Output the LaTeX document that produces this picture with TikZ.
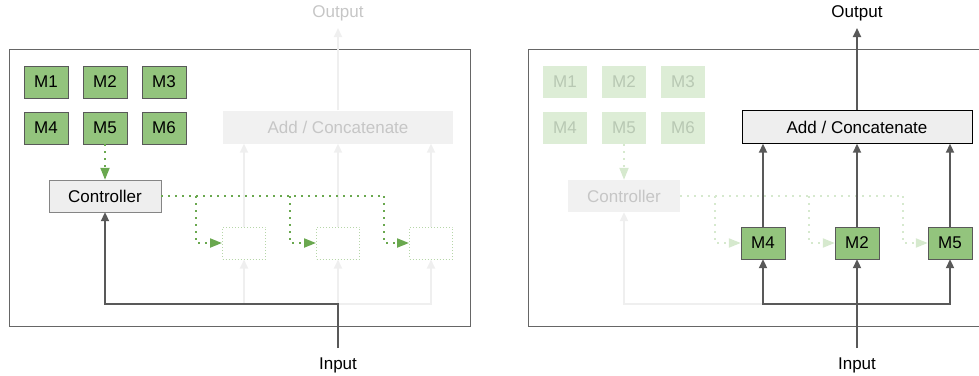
\documentclass[tikz,border=0pt]{standalone}
\usepackage{fontspec}
\setmainfont{Liberation Sans}
\usetikzlibrary{arrows.meta}
\definecolor{modgreen}{HTML}{93C47D}
\definecolor{modfaint}{HTML}{DDEDD6}
\definecolor{modfainttext}{HTML}{B8C8B3}
\definecolor{dotgreen}{HTML}{6AA84F}
\definecolor{dotfaint}{HTML}{D6E9CE}
\definecolor{boxgray}{HTML}{EEEEEE}
\definecolor{boxfaint}{HTML}{F1F1F1}
\definecolor{fadetext}{HTML}{C6C6C6}
\definecolor{linegray}{HTML}{595959}
\definecolor{fadegray}{HTML}{EFEFEF}
\definecolor{framegray}{HTML}{666666}

\tikzset{
  lbl/.style={font=\fontsize{17}{19}\selectfont},
  modbox/.style={lbl, draw=linegray, fill=modgreen, minimum width=44pt, minimum height=32pt, inner sep=0pt},
  modfade/.style={lbl, fill=modfaint, text=modfainttext, minimum width=44pt, minimum height=32pt, inner sep=0pt},
  ctrlbox/.style={lbl, draw=framegray!80, fill=boxgray, minimum width=112pt, minimum height=32pt, inner sep=0pt},
  ctrlfade/.style={lbl, fill=boxfaint, text=fadetext, minimum width=112pt, minimum height=32pt, inner sep=0pt},
  addbox/.style={lbl, draw=black, fill=boxgray, minimum width=230pt, minimum height=33pt, inner sep=0pt},
  addfade/.style={lbl, fill=boxfaint, text=fadetext, minimum width=230pt, minimum height=33pt, inner sep=0pt},
  slotbox/.style={draw=dotfaint!70!dotgreen, line width=1pt, dash pattern=on 1pt off 2pt, minimum width=43pt, minimum height=32pt, inner sep=0pt},
  flow/.style={draw=linegray, line width=2pt, -{Triangle[length=9pt,width=8pt]}},
  fadeflow/.style={draw=fadegray, line width=2pt, -{Triangle[length=9pt,width=8pt]}},
  pick/.style={draw=dotgreen, line width=2pt, dash pattern=on 2pt off 5pt, -{Triangle[length=12pt,width=9pt]}},
  pickline/.style={draw=dotgreen, line width=2pt, dash pattern=on 2pt off 5pt},
  pickfade/.style={draw=dotfaint, line width=2pt, dash pattern=on 2pt off 5pt, -{Triangle[length=12pt,width=9pt]}},
  pickfadeline/.style={draw=dotfaint, line width=2pt, dash pattern=on 2pt off 5pt}
}

\begin{document}
\begin{tikzpicture}[x=1pt,y=-1pt]
\useasboundingbox (0,0) rectangle (979,375);

% left panel: controller picks modules
\begin{scope}
\draw[framegray] (9,49) rectangle (470,326);
\node[modbox] (lm1) at (46,82) {M1};
\node[modbox] (lm2) at (105,82) {M2};
\node[modbox] (lm3) at (164,82) {M3};
\node[modbox] (lm4) at (46,128) {M4};
\node[modbox] (lm5) at (105,128) {M5};
\node[modbox] (lm6) at (164,128) {M6};
\node[ctrlbox] (lctrl) at (105,196) {Controller};
\node[addfade] (ladd) at (338,127) {Add / Concatenate};
\node[slotbox] (ls1) at (244,243) {};
\node[slotbox] (ls2) at (338,243) {};
\node[slotbox] (ls3) at (431,243) {};
\node[lbl, anchor=south, inner ysep=7pt, text=fadetext] (lout) at (338,28) {Output};
\node[lbl, anchor=north, inner ysep=10pt] (lin) at (338,348) {Input};
\coordinate (ljoin) at (338,304);
\coordinate (lb1) at (196,196);
\coordinate (lb2) at (290,196);
\coordinate (lb3) at (384,196);

\draw[fadeflow] (ladd.north) -- (lout.south);
\draw[fadeflow] (ls1.north) -- (ls1.north |- ladd.south);
\draw[fadeflow] (ls2.north) -- (ladd.south);
\draw[fadeflow] (ls3.north) -- (ls3.north |- ladd.south);
\draw[fadeflow] (ljoin) -| (ls1.south);
\draw[fadeflow] (ljoin) -- (ls2.south);
\draw[fadeflow] (ljoin) -| (ls3.south);
\draw[flow] (lin.north) -- (ljoin) -| (lctrl.south);

\draw[pick] (lm5.south) -- (lctrl.north);
\draw[pickline] (lctrl.east) -- (lb3);
\draw[pick] (lb1) |- (ls1.west);
\draw[pick] (lb2) |- (ls2.west);
\draw[pick] (lb3) |- (ls3.west);
\end{scope}

% right panel: chosen modules run
\begin{scope}[xshift=519pt]
\draw[framegray] (9,49) rectangle (470,326);
\node[modfade] (rm1) at (46,82) {M1};
\node[modfade] (rm2) at (105,82) {M2};
\node[modfade] (rm3) at (164,82) {M3};
\node[modfade] (rm4) at (46,128) {M4};
\node[modfade] (rm5) at (105,128) {M5};
\node[modfade] (rm6) at (164,128) {M6};
\node[ctrlfade] (rctrl) at (105,196) {Controller};
\node[addbox] (radd) at (338,127) {Add / Concatenate};
\node[modbox] (rs1) at (244,243) {M4};
\node[modbox] (rs2) at (338,243) {M2};
\node[modbox] (rs3) at (431,243) {M5};
\node[lbl, anchor=south, inner ysep=7pt] (rout) at (338,28) {Output};
\node[lbl, anchor=north, inner ysep=10pt] (rin) at (338,348) {Input};
\coordinate (rjoin) at (338,304);
\coordinate (rbend) at (244,304);
\coordinate (rb1) at (196,196);
\coordinate (rb2) at (290,196);
\coordinate (rb3) at (384,196);

\draw[pickfade] (rm5.south) -- (rctrl.north);
\draw[pickfadeline] (rctrl.east) -- (rb3);
\draw[pickfade] (rb1) |- (rs1.west);
\draw[pickfade] (rb2) |- (rs2.west);
\draw[pickfade] (rb3) |- (rs3.west);
\draw[fadeflow] (rbend) -| (rctrl.south);

\draw[flow] (radd.north) -- (rout.south);
\draw[flow] (rs1.north) -- (rs1.north |- radd.south);
\draw[flow] (rs2.north) -- (radd.south);
\draw[flow] (rs3.north) -- (rs3.north |- radd.south);
\draw[flow] (rjoin) -| (rs1.south);
\draw[flow] (rjoin) -| (rs3.south);
\draw[flow] (rin.north) -- (rs2.south);
\end{scope}
\end{tikzpicture}
\end{document}
